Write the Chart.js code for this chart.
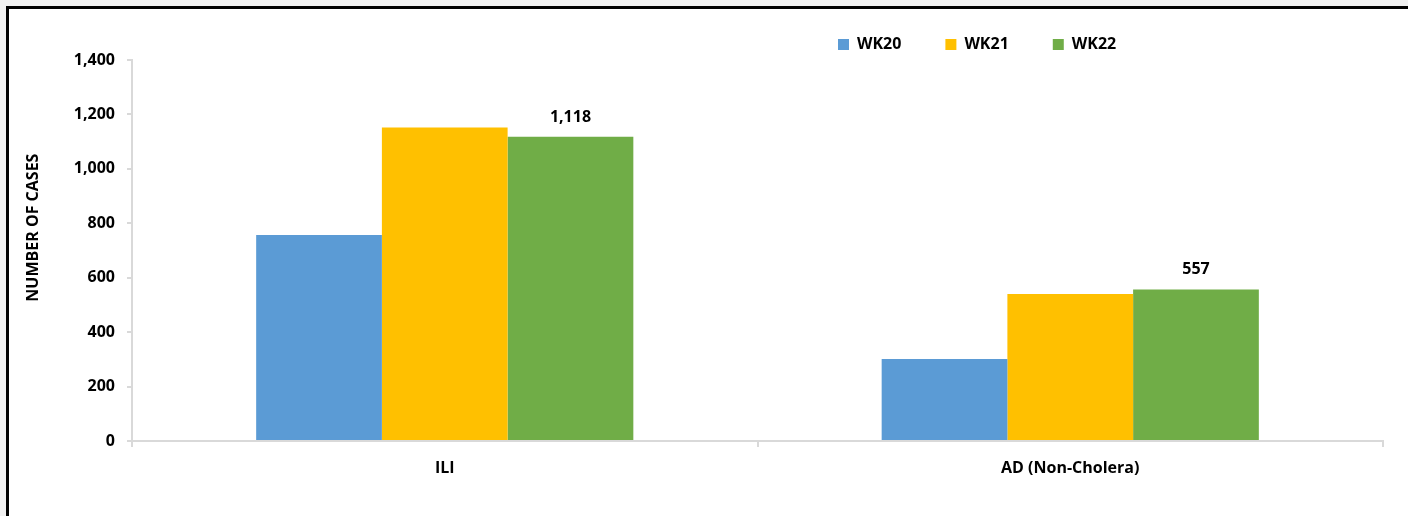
<!DOCTYPE html>
<html>
<head>
<meta charset="utf-8">
<script src="https://cdn.jsdelivr.net/npm/chart.js@4"></script>
<style>
  html, body { margin: 0; padding: 0; background: #f0f0f0; overflow: hidden; }
  #frame {
    position: absolute; left: 6px; top: 6px;
    width: 1399px; height: 507px;
    background: #fff;
    border-left: 3px solid #000; border-top: 3px solid #000;
  }
  #frame canvas { display: block; }
</style>
</head>
<body>
<div id="frame"><canvas id="casesChart" width="1399" height="507"></canvas></div>
<script>
// ===== DATA =====
const categories = ["ILI", "AD (Non-Cholera)"];
const weeks = ["WK20", "WK21", "WK22"];
const wk20 = [757, 301];
const wk21 = [1152, 540];
const wk22 = [1118, 557];
const yMin = 0;
const yMax = 1400;
const yStep = 200;

const colors = ["#5b9bd5", "#ffc000", "#70ad47"];
const axisGrey = "#d9d9d9";

Chart.defaults.font.family = "'Open Sans', sans-serif";
Chart.defaults.font.size = 16;
Chart.defaults.font.weight = "bold";
Chart.defaults.color = "#000";

// ===== PLUGINS =====
// put the legend where the original has it (right of centre, above plot)
const legendSpot = {
  id: "legendSpot",
  afterLayout(chart) {
    const lg = chart.legend;
    const pad = lg.options.labels.padding;
    lg.left = 829 - pad;
    lg.right = lg.left + 420;
    lg.top = 35.5 - pad - 8;
  }
};

// value labels, only on the last week
const lastWeekLabels = {
  id: "lastWeekLabels",
  afterDatasetsDraw(chart) {
    const ctx = chart.ctx;
    const meta = chart.getDatasetMeta(2);
    ctx.save();
    ctx.font = "bold 16px 'Open Sans', sans-serif";
    ctx.fillStyle = "#000";
    ctx.textAlign = "center";
    ctx.textBaseline = "alphabetic";
    meta.data.forEach((bar, i) => {
      ctx.fillText(wk22[i].toLocaleString("en-US"), bar.x, bar.y - 15);
    });
    ctx.restore();
  }
};

// ===== CHART =====
const ctx = document.getElementById("casesChart").getContext("2d");

const casesChart = new Chart(ctx, {
  type: "bar",
  data: {
    labels: categories,
    datasets: [
      { label: weeks[0], data: wk20, backgroundColor: colors[0] },
      { label: weeks[1], data: wk21, backgroundColor: colors[1] },
      { label: weeks[2], data: wk22, backgroundColor: colors[2] }
    ]
  },
  options: {
    responsive: false,
    animation: false,
    categoryPercentage: 0.603,
    barPercentage: 1,
    layout: { padding: { left: 0, right: 25, top: 50, bottom: 0 } },
    plugins: {
      legend: {
        position: "top",
        align: "start",
        maxHeight: 1,
        labels: { boxWidth: 11, boxHeight: 11, padding: 44, color: "#000" }
      },
      tooltip: { enabled: false }
    },
    scales: {
      x: {
        grid: { drawOnChartArea: false, drawTicks: true, tickLength: 6, color: axisGrey, lineWidth: 2 },
        border: { color: axisGrey, width: 2 },
        ticks: { padding: 12, color: "#000" },
        afterFit(scale) { scale.height = 75; }
      },
      y: {
        min: yMin,
        max: yMax,
        ticks: { stepSize: yStep, padding: 12, color: "#000" },
        grid: { drawOnChartArea: false, drawTicks: true, tickLength: 5, color: axisGrey, lineWidth: 2 },
        border: { color: axisGrey, width: 2 },
        title: {
          display: true,
          text: "           NUMBER OF CASES",
          color: "#000",
          font: { size: 16, weight: "bold" },
          padding: { top: 15, bottom: 0 }
        },
        afterFit(scale) { scale.width = 123; }
      }
    }
  },
  plugins: [legendSpot, lastWeekLabels]
});
</script>
</body>
</html>
